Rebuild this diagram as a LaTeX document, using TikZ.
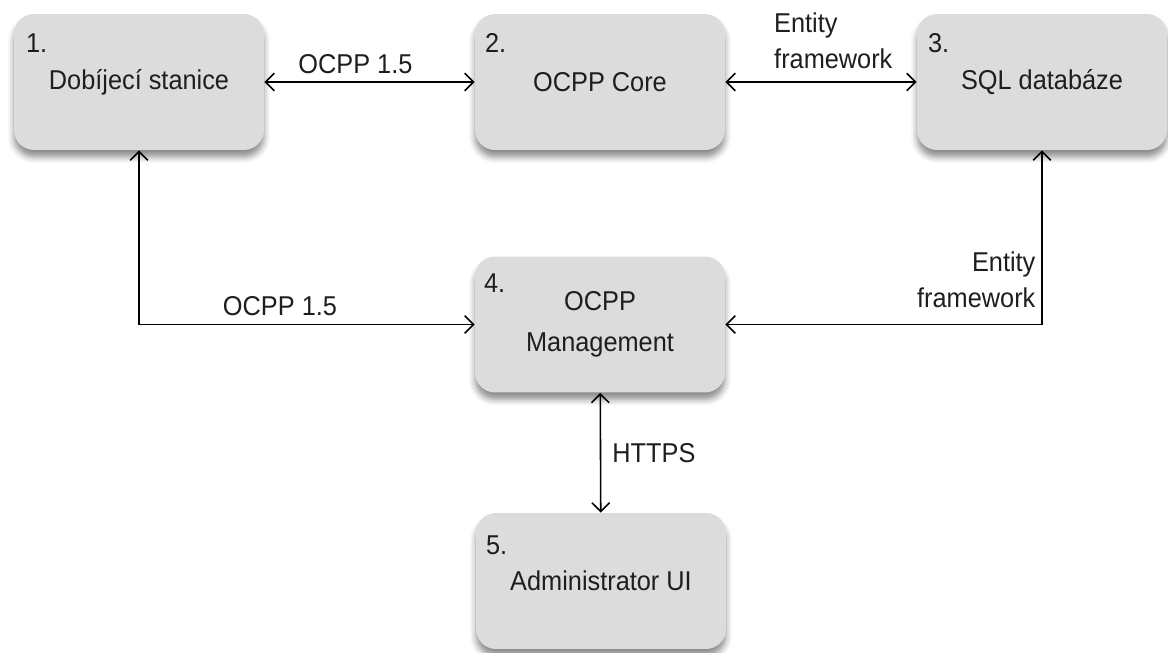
\documentclass[tikz,border=0pt]{standalone}
\usepackage{fontspec}
\setmainfont{Liberation Sans}[FakeStretch=0.93]
\usetikzlibrary{arrows.meta,shadows.blur}
\definecolor{blokfill}{HTML}{DCDCDC}
\definecolor{textcol}{HTML}{1E1E1E}

\begin{document}
\begin{tikzpicture}[x=0.02cm, y=-0.02cm,
    font=\fontsize{15.5}{20}\selectfont, text=textcol,
    blok/.style={fill=blokfill, rounded corners=0.4cm, align=center,
        minimum width=5cm, minimum height=2.72cm,
        blur shadow={shadow xshift=0pt, shadow yshift=-4pt, shadow opacity=45, shadow blur radius=3.5pt}},
    cislo/.style={anchor=base west, inner sep=0pt},
    spoj/.style={{Straight Barb[length=5pt,width=10pt]}-{Straight Barb[length=5pt,width=10pt]},
        line width=0.9pt, draw=black}]
    \useasboundingbox (0,0) rectangle (1168,652);
    % Bloky
    \node[blok] (stanice) at (139,82) {Dobíjecí stanice};
    \node[blok] (core) at (600,82) {OCPP Core};
    \node[blok] (sql) at (1042,82) {SQL databáze};
    \node[blok] (mgmt) at (600,324.5) {OCPP\\[3pt]Management};
    \node[blok] (admin) at (601,581) {Administrator UI};
    % Cisla bloku
    \node[cislo] (c1) at ([shift={(12,39)}]stanice.north west) {1.};
    \node[cislo] (c2) at ([shift={(10,39)}]core.north west) {2.};
    \node[cislo] (c3) at ([shift={(11,39)}]sql.north west) {3.};
    \node[cislo] (c4) at ([shift={(9,36)}]mgmt.north west) {4.};
    \node[cislo] (c5) at ([shift={(10,42)}]admin.north west) {5.};
    % Spojeni
    \draw[spoj] (stanice) -- node[above, xshift=-8, yshift=1] {OCPP 1.5} (core);
    \draw[spoj] (core) -- node[above, align=left, xshift=7, yshift=4] {Entity\\framework} (sql);
    \draw[spoj] (stanice.south) |- node[pos=0.71, above, yshift=1] {OCPP 1.5} (mgmt.west);
    \draw[spoj] (sql.south) |- node[pos=0.5, above left, align=right, yshift=6] {Entity\\framework} (mgmt.east);
    \draw[spoj] (mgmt) -- node[right, xshift=3] {HTTPS} (admin);
\end{tikzpicture}
\end{document}
